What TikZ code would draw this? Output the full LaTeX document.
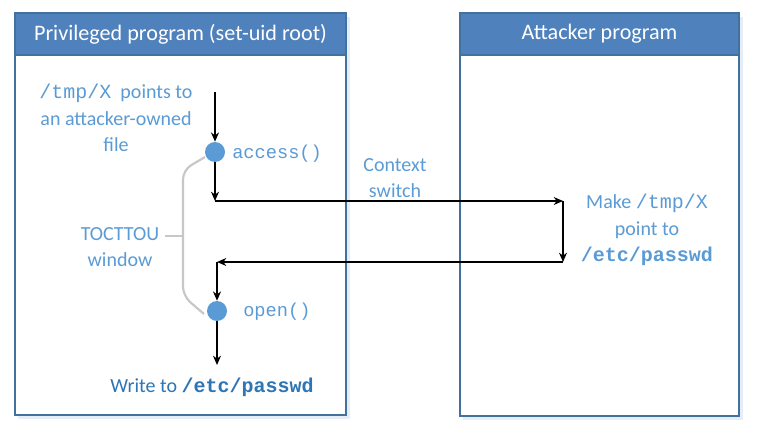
\documentclass[tikz,border=0pt]{standalone}
\usepackage{fontspec}
\setmainfont{Carlito}
\setmonofont{Liberation Mono}
\usetikzlibrary{arrows.meta, positioning}

\definecolor{hdrblue}{HTML}{4F81BD}
\definecolor{edgeblue}{HTML}{41719C}
\definecolor{txtblue}{HTML}{5B9BD5}
\definecolor{wrblue}{HTML}{2E75B6}
\definecolor{shadowblue}{HTML}{E4EDF8}

\tikzset{
  panel/.style = {draw=edgeblue, line width=1.1pt, fill=white},
  hdrbox/.style = {draw=edgeblue, line width=1.1pt, fill=hdrblue},
  hdrtext/.style = {text=white, font=\fontsize{16.6}{20}\selectfont},
  note/.style = {text=txtblue, align=center, font=\fontsize{15}{20}\selectfont},
  call/.style = {text=txtblue, anchor=west, inner sep=0pt, font=\ttfamily\fontsize{14}{18}\selectfont},
  dot/.style = {circle, fill=txtblue, minimum size=15pt, inner sep=0pt},
  arr/.style = {-{Stealth[length=7pt, width=6pt]}, line width=0.9pt, black},
  brace/.style = {draw=black!22, line width=1.6pt, rounded corners=7pt}
}

\begin{document}
\begin{tikzpicture}[x=0.75pt, y=-0.75pt]
  \useasboundingbox (0,0) rectangle (771,442);

  % the two programs
  \fill[shadowblue] (18,17) rectangle (350,419);
  \fill[shadowblue] (463,17) rectangle (743,420);
  \draw[panel] (15,13) rectangle (346,415);
  \draw[panel] (460,13) rectangle (739,416);
  \draw[hdrbox] (15,13) rectangle (346,55);
  \draw[hdrbox] (460,13) rectangle (739,55);
  \node[hdrtext] (privhdr) at (180.5,34) {Privileged program (set-uid root)};
  \node[hdrtext] (atkhdr) at (599.5,34) {Attacker program};

  % points on the time line
  \coordinate (start) at (215,92);
  \node[dot] (acc) at (215,152) {};
  \coordinate (sw1) at (215,201);
  \coordinate (sw2) at (563,201);
  \coordinate (sw3) at (563,262);
  \coordinate (sw4) at (217,262);
  \node[dot] (opn) at (217,311) {};
  \coordinate (wend) at (217,365);

  % texts
  \node[note] (tmpx) at (116,118) {\texttt{/tmp/X}~~points to\\an attacker-owned\\file};
  \node[call] (acclbl) at (232,154) {access()};
  \node[call] (opnlbl) at (243,312) {open()};
  \node[note] (ctx) at (395,178) {Context\\switch};
  \node[note] (make) at (647,230) {Make \texttt{/tmp/X}\\point to\\\texttt{\textbf{/etc/passwd}}};
  \node[note] (toc) at (120,247) {TOCTTOU\\window};
  \node[note, text=wrblue] (write) at (212,387) {Write to \texttt{\textbf{/etc/passwd}}};

  % TOCTTOU window
  \coordinate (tick) at (183,236);
  \draw[brace] (205,157) -- (183,170) -- (183,296) -- (204,314);
  \draw[brace] (165,236) -- (tick);

  % flow
  \draw[arr] (start) -- (acc);
  \draw[arr] (acc) -- (sw1);
  \draw[arr] (sw1) -- (sw2);
  \draw[arr] (sw2) -- (sw3);
  \draw[arr] (sw3) -- (sw4);
  \draw[arr] (sw4) -- (opn);
  \draw[arr] (opn) -- (wend);
\end{tikzpicture}
\end{document}
